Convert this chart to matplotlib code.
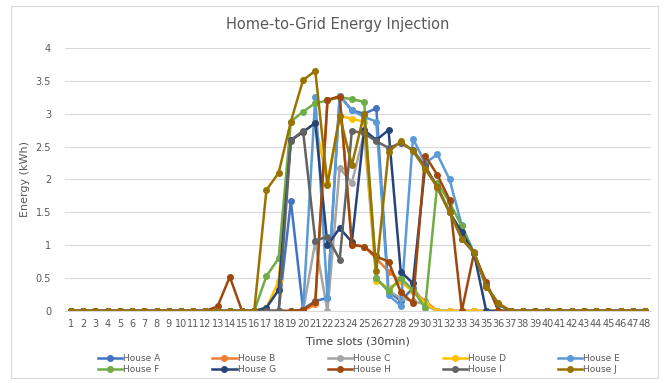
import matplotlib.pyplot as plt
import matplotlib.patches as patches
import numpy as np

slots = np.arange(1, 49)
houses = ['House A', 'House B', 'House C', 'House D', 'House E',
          'House F', 'House G', 'House H', 'House I', 'House J']
colors = ['#4472C4', '#ED7D31', '#A5A5A5', '#FFC000', '#5B9BD5',
          '#70AD47', '#264478', '#9E480E', '#636363', '#997300']


def day(start, vals):
    # all slots are 0 outside the injection window
    d = [0.0] * 48
    for i, v in enumerate(vals):
        d[start - 1 + i] = v
    return d


# values (slot 17 onwards unless noted)
house_a = day(17, [0, 0, 1.67, 0.03, 0.15, 0.2, 3.27, 3.05, 3.0, 3.08, 0.3, 0.15, 0.35, 0.1])
house_b = day(17, [0, 0, 0, 0, 0.1, 3.2, 3.27, 1.0, 0.98, 0.8, 0.6, 0.45, 0.3, 0.15])
house_c = day(17, [0, 0, 0, 0, 1.05, 0, 2.17, 1.95, 2.7, 0.5, 0.3, 0.2, 0.15, 0.1])
house_d = day(17, [0.05, 0.45, 2.6, 2.72, 2.86, 1.95, 2.97, 2.92, 2.88, 0.46, 0.35, 0.45, 0.3, 0.12])
house_e = day(17, [0, 0, 0, 0, 3.25, 0.2, 3.27, 3.05, 2.95, 2.88, 0.24, 0.08, 2.62, 2.25,
                   2.38, 2.0, 1.3, 0.88, 0.38, 0.1])
house_f = day(17, [0.53, 0.8, 2.88, 3.03, 3.16, 3.2, 3.25, 3.22, 3.18, 0.5, 0.3, 0.5, 0.32, 0.05,
                   1.95, 1.65, 1.29, 0.88, 0.4, 0.1])
house_g = day(17, [0.05, 0.32, 2.6, 2.72, 2.86, 1.0, 1.26, 1.05, 2.75, 2.6, 2.75, 0.6, 0.42, 2.2,
                   1.88, 1.5, 1.2, 0.88, 0])
house_h = day(12, [0, 0.07, 0.52, 0, 0, 0, 0, 0, 0.02, 0.14, 3.21, 3.26, 1.01, 0.98, 0.83, 0.75,
                   0.29, 0.12, 2.36, 2.07, 1.69, 0, 0.88, 0.44, 0])
house_i = day(17, [0, 0, 2.59, 2.74, 1.07, 1.13, 0.78, 2.74, 2.7, 2.58, 2.48, 2.55, 2.45, 2.2,
                   1.88, 1.5, 1.1, 0.88, 0.38, 0.1])
house_j = day(17, [1.84, 2.1, 2.88, 3.51, 3.65, 1.92, 2.97, 2.22, 3.0, 0.61, 2.42, 2.58, 2.43, 2.16,
                   1.88, 1.5, 1.1, 0.9, 0.37, 0.12])

data = [house_a, house_b, house_c, house_d, house_e,
        house_f, house_g, house_h, house_i, house_j]

fig = plt.figure(figsize=(6.65, 3.83), dpi=100)
ax = fig.add_axes([0.0977, 0.188, 0.8813, 0.687])

lines = []
for i in range(len(houses)):
    ln, = ax.plot(slots, data[i], color=colors[i], lw=1.8, marker='o', ms=4,
                  label=houses[i], solid_joinstyle='round')
    lines.append(ln)

ax.set_xlim(0.5, 48.5)
ax.set_ylim(0, 4)
ax.set_xticks(slots)
ax.set_yticks(np.arange(0, 4.5, 0.5))
ax.set_yticklabels(['0', '0.5', '1', '1.5', '2', '2.5', '3', '3.5', '4'])
ax.tick_params(axis='both', length=0, labelsize=7, colors='#595959')
ax.tick_params(axis='x', pad=6)
ax.tick_params(axis='y', pad=10)
ax.grid(axis='y', color='#D9D9D9', lw=0.8)
ax.set_axisbelow(True)
for s in ['top', 'right', 'left']:
    ax.spines[s].set_visible(False)
ax.spines['bottom'].set_color('#D9D9D9')

ax.set_ylabel('Energy (kWh)', fontsize=8, color='#595959', labelpad=4)
ax.set_xlabel('Time slots (30min)', fontsize=8, color='#404040', labelpad=5)
fig.text(0.508, 0.935, 'Home-to-Grid Energy Injection', ha='center', va='center',
         fontsize=10.5, color='#595959')

# legend fills column by column, so reorder to get A-E on the first row
order = [0, 5, 1, 6, 2, 7, 3, 8, 4, 9]
leg = fig.legend([lines[k] for k in order], [houses[k] for k in order],
                 loc='upper left', bbox_to_anchor=(0.147, 0.075), ncol=5, frameon=False,
                 fontsize=6.5, handlelength=2.7, handletextpad=0.15, columnspacing=5.7,
                 labelspacing=0.2, borderpad=0, borderaxespad=0)
for t in leg.get_texts():
    t.set_color('#595959')

fig.patches.append(patches.Rectangle((0.016, 0.013), 0.974, 0.972, transform=fig.transFigure,
                                     fill=False, ec='#D9D9D9', lw=0.8))

plt.savefig('out.png', dpi=100)
